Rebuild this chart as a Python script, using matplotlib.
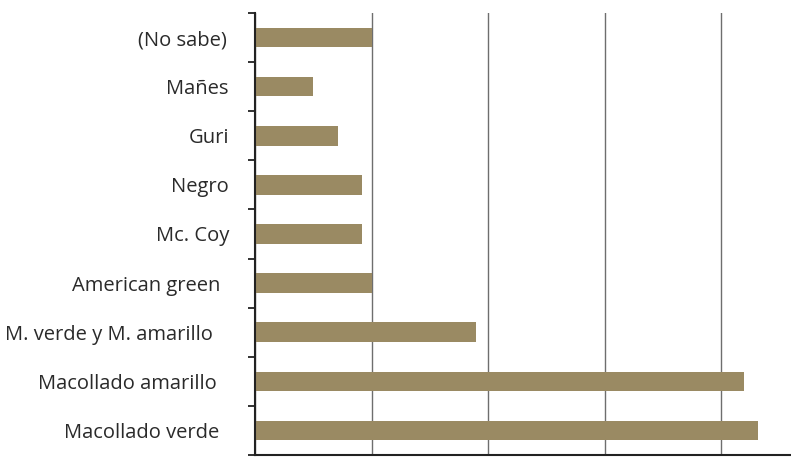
import matplotlib
matplotlib.use("Agg")
import matplotlib.pyplot as plt
import matplotlib.transforms as mtransforms
from matplotlib.ticker import FixedLocator, MultipleLocator

categories = ["(No sabe)", "Mañes", "Guri", "Negro", "Mc. Coy", "American green",
              "M. verde y M. amarillo", "Macollado amarillo", "Macollado verde"]
values = [5.0, 2.5, 3.55, 4.6, 4.6, 5.0, 9.5, 21.0, 21.6]

# per-label horizontal nudges (pixels), layout only
label_shift_px = [-2, -1, 0, 0, 0, -9, -16, -12, -10]

plt.rcParams['font.family'] = ['Open Sans', 'DejaVu Sans']

fig = plt.figure(figsize=(7.91, 4.57), dpi=100)
ax = fig.add_axes([255/791, 2/457, 1 - 255/791, 1 - 15/457])

y = list(range(len(categories)))
ax.barh(y, values, height=0.4, color="#9a8a63", zorder=2)

ax.set_ylim(len(categories) - 0.5, -0.5)
ax.set_xlim(0, 23)
ax.xaxis.set_major_locator(MultipleLocator(5))
ax.grid(axis="x", color="#6e6e6e", linewidth=1.0, zorder=1)
ax.set_axisbelow(True)
ax.tick_params(axis="x", length=0, labelbottom=False)

ax.set_yticks(y)
ax.set_yticklabels(categories, fontsize=14.5, color="#2a2a2a")
ax.tick_params(axis="y", which="major", length=0, pad=18.7)
ax.yaxis.set_minor_locator(FixedLocator([i - 0.5 for i in range(len(categories) + 1)]))
ax.tick_params(axis="y", which="minor", length=5, width=1.3, color="#222222")

for lbl, dx in zip(ax.get_yticklabels(), label_shift_px):
    lbl.set_transform(lbl.get_transform() +
                      mtransforms.ScaledTranslation(dx / 100, 0, fig.dpi_scale_trans))

for s in ["top", "right"]:
    ax.spines[s].set_visible(False)
ax.spines["left"].set_linewidth(1.5)
ax.spines["left"].set_color("#222222")
ax.spines["bottom"].set_linewidth(1.5)
ax.spines["bottom"].set_color("#222222")

fig.savefig("out.png", dpi=100)
